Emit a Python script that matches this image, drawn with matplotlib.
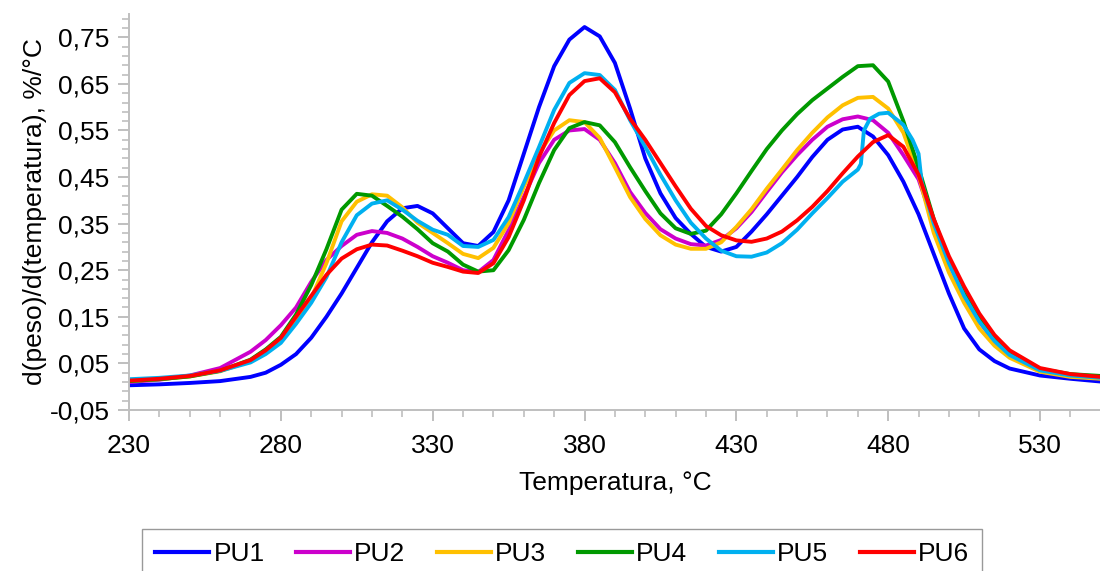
import matplotlib.pyplot as plt
from matplotlib.ticker import FuncFormatter

plt.rcParams['font.family'] = ['Liberation Sans', 'DejaVu Sans']

# ------------------ ДАННЫЕ ------------------
temp = [230, 240, 250, 260, 270, 275, 280, 285, 290, 295, 300, 305, 310, 315,
        320, 325, 330, 335, 340, 345, 350, 355, 360, 365, 370, 375, 380, 385,
        390, 395, 400, 405, 410, 415, 420, 425, 430, 435, 440, 445, 450, 455,
        460, 465, 470, 475, 480, 485, 490, 495, 500, 505, 510, 515, 520, 530,
        540, 550]

pu1 = [0.003, 0.005, 0.008, 0.012, 0.021, 0.030, 0.047, 0.070, 0.105, 0.150,
       0.200, 0.255, 0.310, 0.355, 0.383, 0.388, 0.372, 0.340, 0.308, 0.302,
       0.332, 0.400, 0.500, 0.600, 0.688, 0.745, 0.772, 0.752, 0.695, 0.597,
       0.490, 0.415, 0.362, 0.328, 0.300, 0.290, 0.300, 0.333, 0.370, 0.410,
       0.450, 0.493, 0.530, 0.552, 0.558, 0.537, 0.497, 0.440, 0.370, 0.285,
       0.200, 0.125, 0.080, 0.055, 0.039, 0.024, 0.017, 0.011]

pu2 = [0.010, 0.015, 0.024, 0.040, 0.075, 0.100, 0.132, 0.170, 0.225, 0.272,
       0.302, 0.326, 0.334, 0.330, 0.318, 0.300, 0.280, 0.266, 0.250, 0.246,
       0.272, 0.336, 0.407, 0.480, 0.530, 0.550, 0.553, 0.530, 0.480, 0.418,
       0.373, 0.338, 0.318, 0.306, 0.303, 0.315, 0.340, 0.375, 0.418, 0.460,
       0.497, 0.530, 0.558, 0.574, 0.580, 0.572, 0.545, 0.497, 0.445, 0.350,
       0.265, 0.195, 0.140, 0.097, 0.067, 0.034, 0.023, 0.018]

pu3 = [0.012, 0.016, 0.022, 0.033, 0.055, 0.075, 0.100, 0.140, 0.190, 0.265,
       0.355, 0.397, 0.413, 0.410, 0.385, 0.352, 0.330, 0.308, 0.285, 0.276,
       0.298, 0.351, 0.429, 0.500, 0.550, 0.572, 0.568, 0.534, 0.471, 0.407,
       0.360, 0.325, 0.305, 0.296, 0.296, 0.310, 0.343, 0.381, 0.425, 0.466,
       0.508, 0.545, 0.578, 0.604, 0.620, 0.622, 0.597, 0.545, 0.455, 0.330,
       0.245, 0.180, 0.125, 0.088, 0.062, 0.032, 0.021, 0.017]

pu4 = [0.012, 0.016, 0.022, 0.034, 0.058, 0.080, 0.107, 0.155, 0.218, 0.295,
       0.380, 0.414, 0.410, 0.388, 0.365, 0.338, 0.308, 0.290, 0.262, 0.247,
       0.250, 0.293, 0.358, 0.437, 0.508, 0.555, 0.568, 0.561, 0.525, 0.471,
       0.420, 0.372, 0.340, 0.328, 0.335, 0.370, 0.415, 0.463, 0.510, 0.550,
       0.585, 0.615, 0.640, 0.665, 0.688, 0.690, 0.655, 0.570, 0.470, 0.360,
       0.270, 0.200, 0.145, 0.102, 0.072, 0.038, 0.027, 0.023]

# PU5 has its own temperature points (step near 471 °C)
temp5 = [230, 240, 250, 260, 270, 275, 280, 285, 290, 295, 300, 305, 310, 315,
         320, 325, 330, 335, 340, 345, 350, 355, 360, 365, 370, 375, 380, 385,
         390, 395, 400, 405, 410, 415, 420, 425, 430, 435, 440, 445, 450, 455,
         460, 465, 470, 471, 472, 474, 477, 480, 485, 488, 490, 491, 495, 500,
         505, 510, 515, 520, 530, 540, 550]

pu5 = [0.016, 0.019, 0.024, 0.034, 0.052, 0.070, 0.094, 0.135, 0.180, 0.235,
       0.310, 0.368, 0.393, 0.400, 0.380, 0.356, 0.337, 0.326, 0.302, 0.300,
       0.315, 0.364, 0.437, 0.514, 0.594, 0.652, 0.673, 0.669, 0.637, 0.572,
       0.515, 0.455, 0.400, 0.352, 0.318, 0.292, 0.280, 0.279, 0.288, 0.308,
       0.337, 0.372, 0.405, 0.440, 0.466, 0.478, 0.550, 0.575, 0.586, 0.588,
       0.562, 0.530, 0.500, 0.440, 0.350, 0.265, 0.195, 0.140, 0.098, 0.068,
       0.035, 0.024, 0.019]

pu6 = [0.013, 0.017, 0.023, 0.035, 0.057, 0.078, 0.105, 0.150, 0.195, 0.240,
       0.275, 0.295, 0.305, 0.303, 0.292, 0.280, 0.266, 0.257, 0.247, 0.244,
       0.265, 0.321, 0.400, 0.493, 0.566, 0.626, 0.656, 0.662, 0.632, 0.575,
       0.530, 0.480, 0.430, 0.382, 0.345, 0.325, 0.314, 0.311, 0.318, 0.333,
       0.357, 0.386, 0.420, 0.458, 0.494, 0.525, 0.540, 0.515, 0.455, 0.360,
       0.280, 0.215, 0.157, 0.111, 0.078, 0.040, 0.027, 0.021]

x_ticks = [230, 280, 330, 380, 430, 480, 530]
y_ticks = [-0.05, 0.05, 0.15, 0.25, 0.35, 0.45, 0.55, 0.65, 0.75]

# ------------------ ГРАФИК ------------------
fig = plt.figure(figsize=(11, 5.71), dpi=100)
ax = fig.add_axes([0.1173, 0.282, 0.8834, 0.6935])

lw = 2.8
ax.plot(temp, pu1, color='#0000FF', lw=lw, label='PU1')
ax.plot(temp, pu2, color='#CC00CC', lw=lw, label='PU2')
ax.plot(temp, pu3, color='#FFC000', lw=lw, label='PU3')
ax.plot(temp, pu4, color='#009900', lw=lw, label='PU4')
ax.plot(temp5, pu5, color='#00B0F0', lw=lw, label='PU5')
ax.plot(temp, pu6, color='#FF0000', lw=lw, label='PU6')

ax.set_xlim(230, 550)
ax.set_ylim(-0.05, 0.80)

ax.set_xticks(x_ticks)
ax.set_xticks(range(230, 551, 10), minor=True)
ax.set_yticks(y_ticks)
ax.set_yticks([-0.05 + 0.02 * i for i in range(43)], minor=True)
ax.yaxis.set_major_formatter(FuncFormatter(lambda v, p: f'{v:.2f}'.replace('.', ',')))

grey = '#BFBFBF'
for side in ['top', 'right']:
    ax.spines[side].set_visible(False)
for side in ['left', 'bottom']:
    ax.spines[side].set_color(grey)
    ax.spines[side].set_linewidth(1.4)
ax.tick_params(which='major', length=8, width=1.4, color=grey, labelsize=19,
               direction='out')
ax.tick_params(which='minor', length=5, width=1.2, color=grey, direction='out')
ax.tick_params(axis='y', pad=6)
ax.tick_params(axis='x', pad=9)

ax.set_xlabel('Temperatura, °C', fontsize=19, labelpad=10)
ax.set_ylabel('d(peso)/d(temperatura), %/°C', fontsize=19, labelpad=2)

leg = fig.legend(loc='upper center', bbox_to_anchor=(0.511, 1 - 529 / 571),
                 borderaxespad=0, ncol=6, fontsize=19, handlelength=2.05,
                 handletextpad=0.15, columnspacing=1.2, borderpad=0.5,
                 frameon=True, fancybox=False)
leg.get_frame().set_edgecolor('#808080')
leg.get_frame().set_linewidth(1.0)
for line in leg.get_lines():
    line.set_linewidth(3.0)

fig.savefig('out.png', dpi=100)
